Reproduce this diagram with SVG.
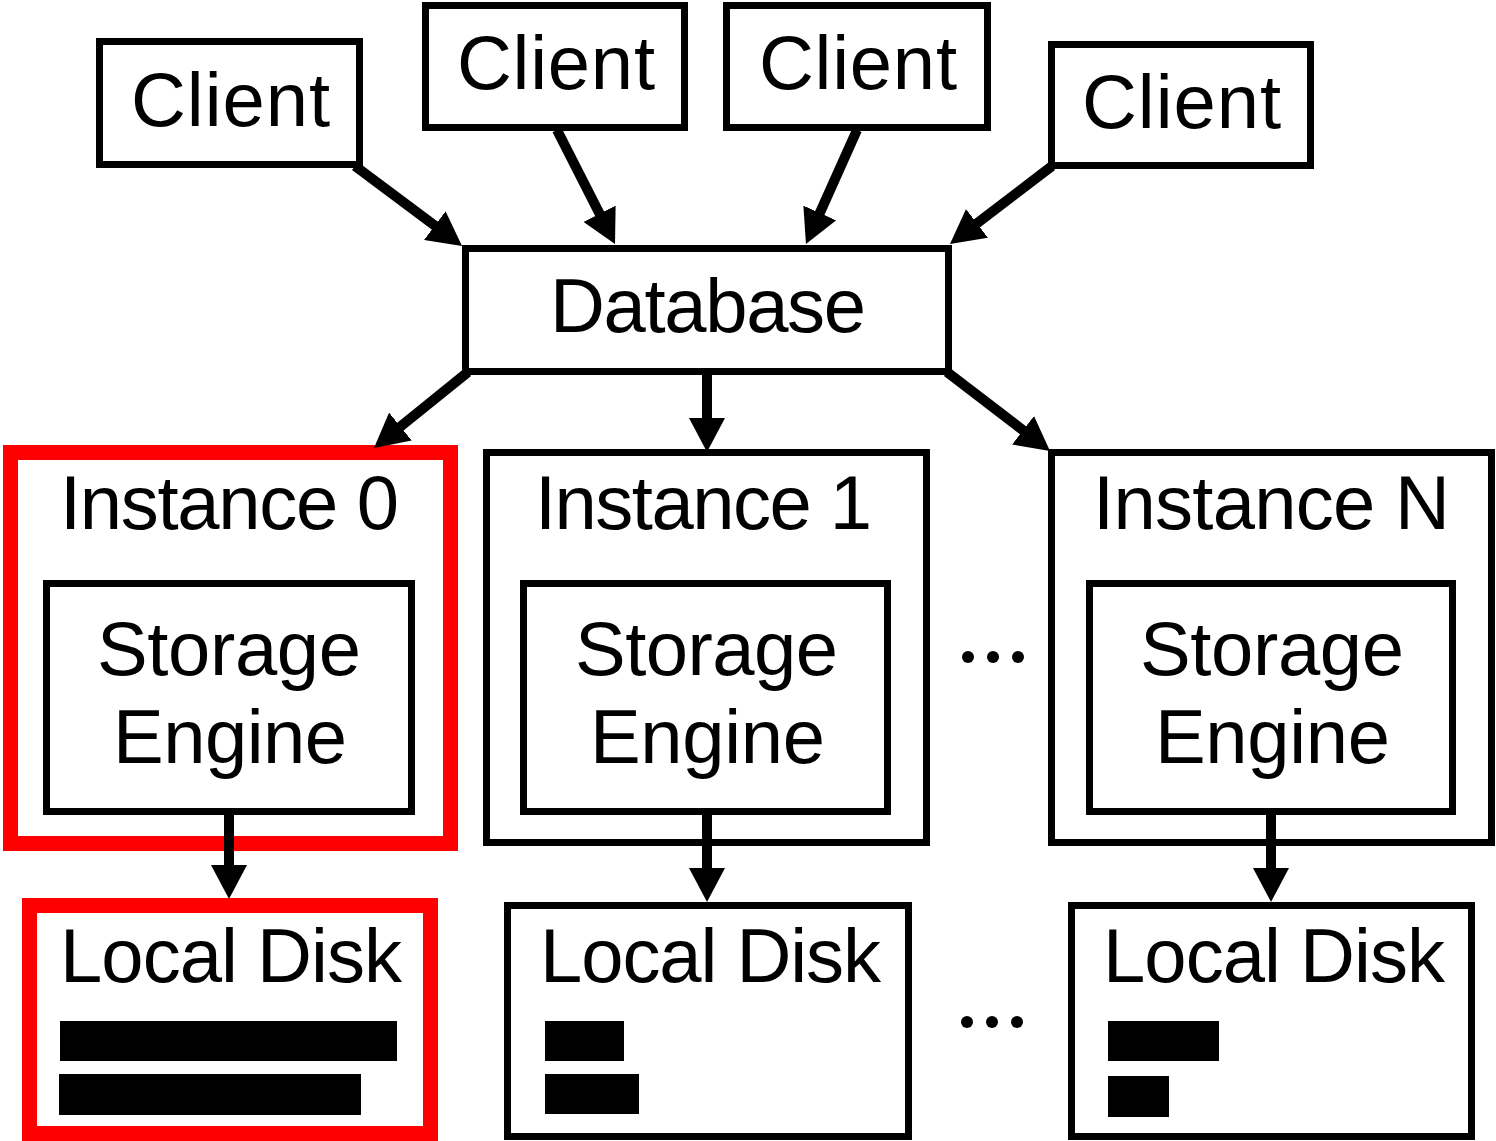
<svg xmlns="http://www.w3.org/2000/svg" width="1496" height="1141" viewBox="0 0 1496 1141">
  <style>
    .box { fill: #fff; stroke: #000; stroke-width: 7; }
    .hl { fill: #fff; stroke: #ff0000; stroke-width: 15; }
    .lbl { font-family: "Liberation Sans", Arial, sans-serif; font-size: 76px; fill: #000; }
    .bar { fill: #000; }
    .dot { fill: #000; }
    .edge { stroke: #000; stroke-width: 10; fill: none; marker-end: url(#head); }
  </style>
  <defs>
    <marker id="head" markerUnits="userSpaceOnUse" viewBox="0 0 34 36" markerWidth="34" markerHeight="36" refX="4" refY="18" orient="auto">
      <path d="M0,0 L34,18 L0,36 Z" fill="#000"/>
    </marker>
  </defs>
  <rect width="1496" height="1141" fill="#fff"/>

  <!-- clients -->
  <g id="client1">
    <rect class="box" x="99.5" y="41.5" width="260" height="123"/>
    <text class="lbl" x="131" y="126" textLength="199">Client</text>
  </g>
  <g id="client2">
    <rect class="box" x="425.5" y="5.5" width="259" height="122"/>
    <text class="lbl" x="457" y="89" textLength="198">Client</text>
  </g>
  <g id="client3">
    <rect class="box" x="726.5" y="5.5" width="261" height="122"/>
    <text class="lbl" x="759" y="89" textLength="198">Client</text>
  </g>
  <g id="client4">
    <rect class="box" x="1051.5" y="44.5" width="259" height="121"/>
    <text class="lbl" x="1082" y="128" textLength="199">Client</text>
  </g>

  <!-- database -->
  <g id="database">
    <rect class="box" x="465.5" y="248.5" width="483" height="123"/>
    <text class="lbl" x="550" y="332" textLength="316">Database</text>
  </g>

  <!-- instances -->
  <g id="instance0">
    <rect class="hl" x="10.5" y="452.5" width="440" height="391"/>
    <text class="lbl" x="60" y="529" textLength="339">Instance 0</text>
    <g id="engine0">
      <rect class="box" x="46.5" y="583.5" width="365" height="228"/>
      <text class="lbl" x="97" y="675" textLength="264">Storage</text>
      <text class="lbl" x="113" y="763" textLength="234">Engine</text>
    </g>
  </g>
  <g id="instance1">
    <rect class="box" x="486.5" y="452.5" width="440" height="390"/>
    <text class="lbl" x="535" y="529" textLength="337">Instance 1</text>
    <g id="engine1">
      <rect class="box" x="523.5" y="583.5" width="364" height="228"/>
      <text class="lbl" x="575" y="675" textLength="263">Storage</text>
      <text class="lbl" x="590" y="763" textLength="235">Engine</text>
    </g>
  </g>
  <g id="instanceN">
    <rect class="box" x="1051.5" y="452.5" width="440" height="390"/>
    <text class="lbl" x="1093" y="529" textLength="357">Instance N</text>
    <g id="engineN">
      <rect class="box" x="1089.5" y="583.5" width="363" height="228"/>
      <text class="lbl" x="1140" y="675" textLength="264">Storage</text>
      <text class="lbl" x="1155" y="763" textLength="235">Engine</text>
    </g>
  </g>

  <!-- local disks with usage bars -->
  <g id="disk0">
    <rect class="hl" x="29.5" y="905.5" width="401" height="228"/>
    <text class="lbl" x="60" y="982" textLength="342">Local Disk</text>
    <rect class="bar" x="60" y="1021" width="337" height="40"/>
    <rect class="bar" x="59" y="1074" width="302" height="41"/>
  </g>
  <g id="disk1">
    <rect class="box" x="507.5" y="905.5" width="401" height="231"/>
    <text class="lbl" x="540" y="982" textLength="341">Local Disk</text>
    <rect class="bar" x="545" y="1021" width="79" height="40"/>
    <rect class="bar" x="545" y="1074" width="94" height="40"/>
  </g>
  <g id="diskN">
    <rect class="box" x="1071.5" y="905.5" width="400" height="231"/>
    <text class="lbl" x="1103" y="982" textLength="342">Local Disk</text>
    <rect class="bar" x="1108" y="1021" width="111" height="40"/>
    <rect class="bar" x="1108" y="1076" width="61" height="41"/>
  </g>

  <!-- ellipses between instance columns -->
  <g id="ellipsis-instances">
    <circle class="dot" cx="968" cy="657" r="6"/>
    <circle class="dot" cx="993" cy="657" r="6"/>
    <circle class="dot" cx="1018" cy="657" r="6"/>
  </g>
  <g id="ellipsis-disks">
    <circle class="dot" cx="967" cy="1022" r="6"/>
    <circle class="dot" cx="992" cy="1022" r="6"/>
    <circle class="dot" cx="1017" cy="1022" r="6"/>
  </g>

  <!-- connectors -->
  <g id="connectors">
    <line class="edge" x1="355" y1="166" x2="438" y2="228"/>
    <line class="edge" x1="557" y1="130" x2="601.4" y2="217.3"/>
    <line class="edge" x1="857" y1="130" x2="818.2" y2="216.6"/>
    <line class="edge" x1="1052" y1="166" x2="973.8" y2="225.8"/>
    <line class="edge" x1="468" y1="372" x2="397.3" y2="429.1"/>
    <line class="edge" x1="707" y1="375" x2="707" y2="422"/>
    <line class="edge" x1="947" y1="372" x2="1026.2" y2="432.7"/>
    <line class="edge" x1="229" y1="815" x2="229" y2="869"/>
    <line class="edge" x1="707" y1="815" x2="707" y2="872"/>
    <line class="edge" x1="1271" y1="815" x2="1271" y2="872"/>
  </g>
</svg>
